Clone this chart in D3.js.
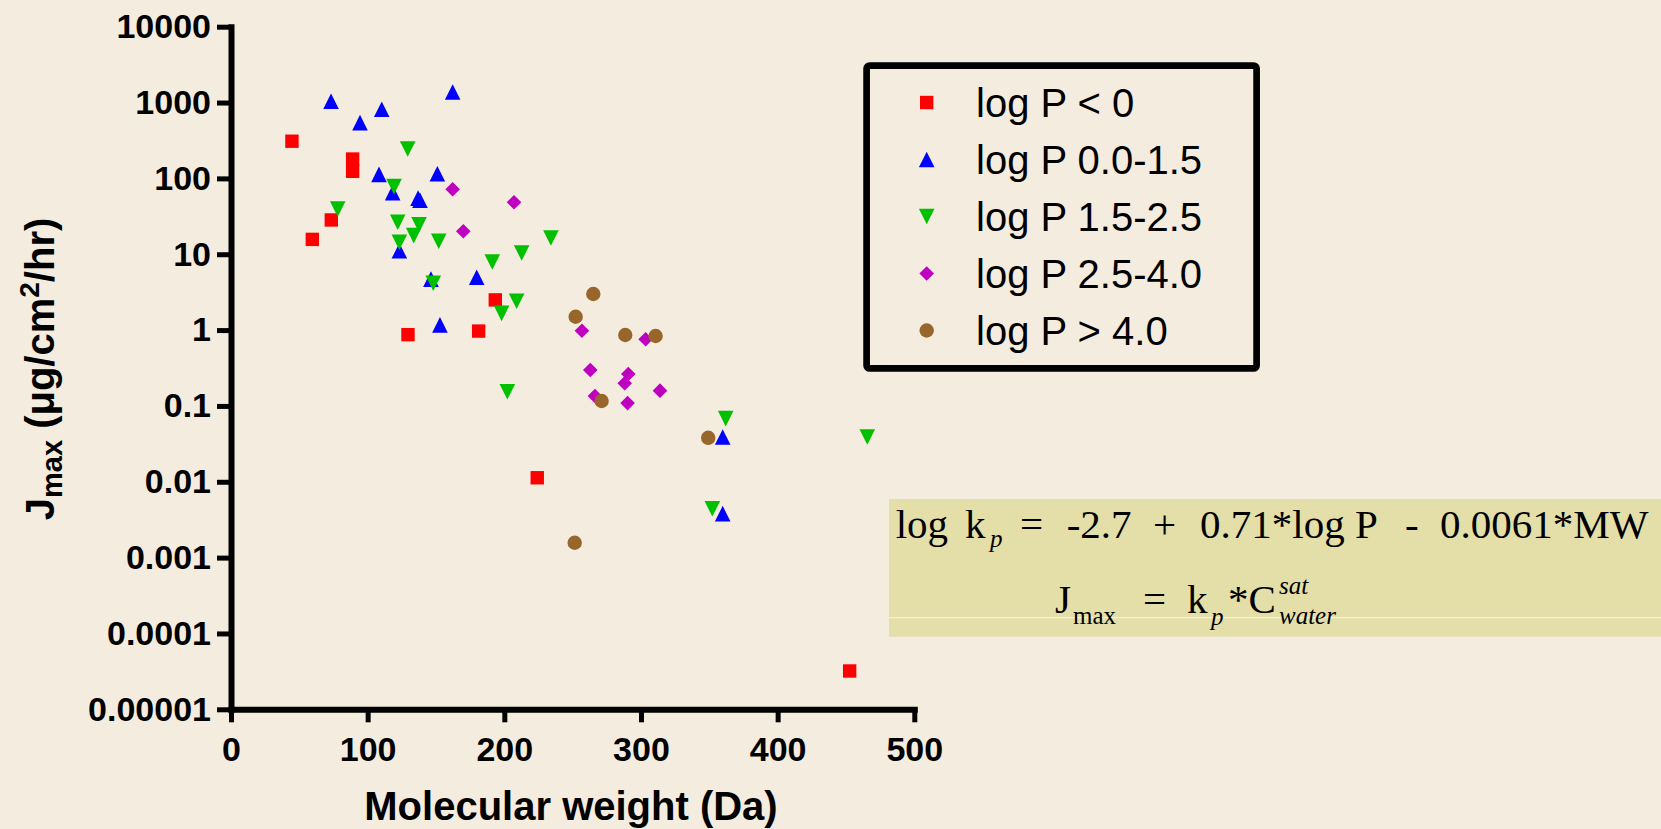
<!DOCTYPE html>
<html>
<head>
<meta charset="utf-8">
<script src="https://cdn.jsdelivr.net/npm/d3@7"></script>
<style>
  html, body { margin: 0; padding: 0; background: #F4ECDF; }
  svg { display: block; }
</style>
</head>
<body>
<svg id="chart" width="1661" height="829"></svg>
<script>
// ---------------- DATA ----------------
const seriesNames = ["log P < 0", "log P 0.0-1.5", "log P 1.5-2.5", "log P 2.5-4.0", "log P > 4.0"];
const seriesColors = ["#FF0000", "#0000FF", "#00C000", "#C000C0", "#98662A"];
const seriesShapes = ["square", "triangleUp", "triangleDown", "diamond", "circle"];

const mwLogPneg = [44.6, 59.5, 73.4, 89, 89, 129.5, 181.2, 193.4, 224.1, 452.7];
const jLogPneg  = [309, 15.7, 28.3, 180, 124, 0.87, 0.97, 2.5, 0.0113, 0.000032];

const mwLogP0to15 = [73.2, 94.4, 110.3, 162.2, 108.3, 151, 118.3, 136.9, 138.3, 123.2, 146.3, 179.8, 152.9, 359.8, 359.8];
const jLogP0to15  = [1040, 543, 815, 1378, 113, 115, 64.9, 55, 51.6, 11.1, 4.7, 4.97, 1.17, 0.039, 0.0038];

const mwLogP15to25 = [129.3, 119.3, 78.1, 122, 137.6, 133.7, 123.2, 152, 234.1, 212.7, 191.2, 148, 209, 198, 202.2, 362, 465.6, 352.2];
const jLogP15to25  = [244, 77.8, 39.5, 26.4, 24.5, 17.6, 14.4, 14.8, 16.4, 10.4, 7.9, 4.14, 2.4, 1.66, 0.154, 0.068, 0.039, 0.0044];

const mwLogP25to40 = [162.2, 207.1, 170, 256.8, 303.4, 262.9, 290.7, 288.1, 313.9, 266.3, 290.2];
const jLogP25to40  = [71.8, 48.4, 20.1, 0.98, 0.757, 0.298, 0.264, 0.199, 0.159, 0.135, 0.109];

const mwLogPgt4 = [265.1, 252.2, 288.5, 310.7, 271.2, 349.2, 251.5];
const jLogPgt4  = [2.99, 1.50, 0.861, 0.835, 0.116, 0.038, 0.00157];

const xTicks = [0, 100, 200, 300, 400, 500];
const yTicks = [1e-5, 1e-4, 1e-3, 1e-2, 1e-1, 1, 10, 100, 1000, 10000];
const yTickLabels = ["0.00001", "0.0001", "0.001", "0.01", "0.1", "1", "10", "100", "1000", "10000"];

const xTitle = "Molecular weight (Da)";

// ---------------- SETUP ----------------
const svg = d3.select("#chart");
const W = 1661, H = 829;
const sans = "'Liberation Sans', Arial, Helvetica, sans-serif";
const serif = "'Liberation Serif', 'Times New Roman', Times, serif";

svg.append("rect").attr("width", W).attr("height", H).attr("fill", "#F4ECDF");

const x = d3.scaleLinear().domain([0, 500]).range([231, 914.3]);
const y = d3.scaleLog().domain([1e-5, 1e4]).range([709.3, 26.7]);

// custom symbol types
const symTypes = {
  square: { draw(ctx, s) { const h = 6.7; ctx.rect(-h, -h, 2 * h, 2 * h); } },
  triangleUp: { draw(ctx, s) { const w = 7.8, h = 7.8; ctx.moveTo(0, -h); ctx.lineTo(w, h); ctx.lineTo(-w, h); ctx.closePath(); } },
  triangleDown: { draw(ctx, s) { const w = 7.8, h = 7.8; ctx.moveTo(0, h); ctx.lineTo(w, -h); ctx.lineTo(-w, -h); ctx.closePath(); } },
  diamond: { draw(ctx, s) { const r = 7.3; ctx.moveTo(0, -r); ctx.lineTo(r, 0); ctx.lineTo(0, r); ctx.lineTo(-r, 0); ctx.closePath(); } },
  circle: { draw(ctx, s) { const r = 7.2; ctx.moveTo(r, 0); ctx.arc(0, 0, r, 0, 2 * Math.PI); } }
};

// ---------------- EQUATION BOX ----------------
const eq = svg.append("g");
eq.append("rect").attr("x", 889).attr("y", 499).attr("width", W - 889).attr("height", 137.7).attr("fill", "#E4DFA8");
eq.append("line").attr("x1", 889).attr("x2", W).attr("y1", 617.7).attr("y2", 617.7)
  .attr("stroke", "#F4F0DC").attr("stroke-width", 1.3);

function eqText(parent, parts) {
  const t = parent.append("text").attr("font-family", serif).attr("fill", "#000");
  parts.forEach(p => {
    t.append("tspan").attr("x", p.x).attr("y", p.y)
      .attr("font-size", p.size || 41)
      .attr("font-style", p.italic ? "italic" : "normal")
      .text(p.t);
  });
}
eqText(eq, [
  { t: "log", x: 895.7, y: 538 },
  { t: "k", x: 965, y: 538 },
  { t: "p", x: 990, y: 547, size: 25, italic: true },
  { t: "=", x: 1020, y: 538 },
  { t: "-2.7", x: 1066.7, y: 538 },
  { t: "+", x: 1153, y: 538 },
  { t: "0.71*log P", x: 1200, y: 538 },
  { t: "-", x: 1405, y: 538 },
  { t: "0.0061*MW", x: 1440, y: 538 }
]);
eqText(eq, [
  { t: "J", x: 1055, y: 613 },
  { t: "max", x: 1073, y: 624, size: 25 },
  { t: "=", x: 1143, y: 613 },
  { t: "k", x: 1187, y: 613 },
  { t: "p", x: 1211, y: 625, size: 25, italic: true },
  { t: "*C", x: 1228, y: 613 },
  { t: "sat", x: 1279, y: 594, size: 25, italic: true },
  { t: "water", x: 1279, y: 624, size: 25, italic: true }
]);

// ---------------- AXES ----------------
const yAxis = d3.axisLeft(y).tickValues(yTicks)
  .tickFormat((d, i) => yTickLabels[i]).tickSize(14).tickPadding(6).tickSizeOuter(0);
const gy = svg.append("g").attr("transform", "translate(231,0)").call(yAxis);

const xAxis = d3.axisBottom(x).tickValues(xTicks).tickFormat(d3.format("d"))
  .tickSize(13).tickPadding(15).tickSizeOuter(0);
const gx = svg.append("g").attr("transform", "translate(0,709.3)").call(xAxis);

[gx, gy].forEach(g => {
  g.select(".domain").attr("stroke", "#000").attr("stroke-width", 6).attr("stroke-linecap", "square");
  g.selectAll(".tick line").attr("stroke", "#000").attr("stroke-width", 5);
  g.selectAll(".tick text").attr("fill", "#000").attr("font-family", sans)
    .attr("font-weight", "bold").attr("font-size", 34);
});

// axis titles
svg.append("text").attr("x", 571).attr("y", 820).attr("text-anchor", "middle")
  .attr("font-family", sans).attr("font-weight", "bold").attr("font-size", 40)
  .text(xTitle);

const yt = svg.append("text").attr("transform", "translate(54,369) rotate(-90)")
  .attr("text-anchor", "middle").attr("font-family", sans).attr("font-weight", "bold").attr("font-size", 40);
yt.append("tspan").text("J");
yt.append("tspan").attr("font-size", 29).attr("dy", 8).text("max");
yt.append("tspan").attr("dy", -8).text(" (\u03BCg/cm");
yt.append("tspan").attr("font-size", 28).attr("dy", -15).text("2");
yt.append("tspan").attr("dy", 15).text("/hr)");

// ---------------- POINTS ----------------
const seriesData = [
  [mwLogPneg, jLogPneg],
  [mwLogP0to15, jLogP0to15],
  [mwLogP15to25, jLogP15to25],
  [mwLogP25to40, jLogP25to40],
  [mwLogPgt4, jLogPgt4]
];
seriesData.forEach(([mw, j], si) => {
  const pts = mw.map((m, i) => ({ m, v: j[i] }));
  svg.append("g").selectAll("path").data(pts).join("path")
    .attr("d", d3.symbol().type(symTypes[seriesShapes[si]]))
    .attr("transform", d => `translate(${x(d.m)},${y(d.v)})`)
    .attr("fill", seriesColors[si]);
});

// ---------------- LEGEND ----------------
const lg = svg.append("g");
lg.append("rect").attr("x", 866.6).attr("y", 65.6).attr("width", 390).attr("height", 302.8)
  .attr("rx", 3).attr("fill", "#F4ECDF").attr("stroke", "#000").attr("stroke-width", 6.7);
const rowY = d3.scaleLinear().domain([0, 4]).range([102.5, 330.5]);
seriesNames.forEach((name, i) => {
  lg.append("path").attr("d", d3.symbol().type(symTypes[seriesShapes[i]]))
    .attr("transform", `translate(926.7,${rowY(i)})`).attr("fill", seriesColors[i]);
  lg.append("text").attr("x", 976).attr("y", rowY(i) + 14.3)
    .attr("font-family", sans).attr("font-size", 40).attr("fill", "#000").text(name);
});
</script>
</body>
</html>
